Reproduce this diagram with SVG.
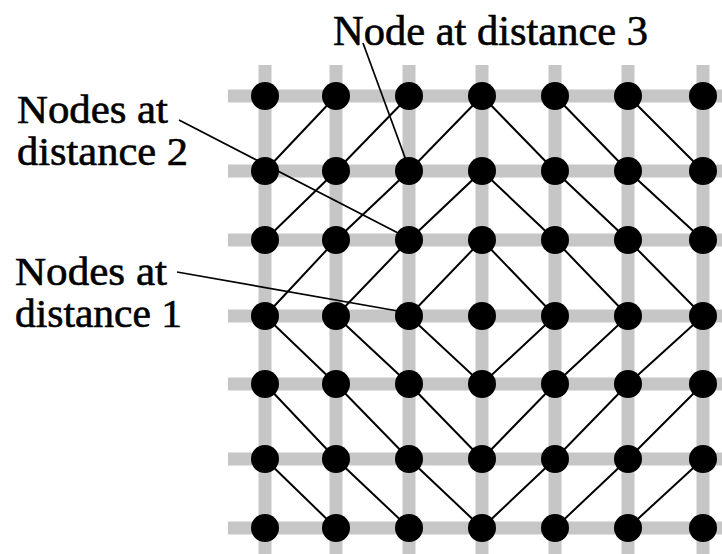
<svg xmlns="http://www.w3.org/2000/svg" width="722" height="554" viewBox="0 0 722 554">
<style>
.grid{stroke:#c6c6c6;stroke-width:13;fill:none}
.diag{stroke:#000;stroke-width:2;fill:none;stroke-linejoin:miter}
.lead{stroke:#000;stroke-width:1.7;fill:none}
.node{fill:#000}
.lbl{font-family:"Liberation Serif","Times New Roman",serif;fill:#000;stroke:#000;stroke-width:0.6}
</style>
<rect width="722" height="554" fill="#fff"/>
<g id="mesh-links">
<path class="grid" d="M228,96H722M228,171H722M228,240H722M228,316H722M228,384H722M228,459H722M228,528H722"/>
<path class="grid" d="M265,65V554M336,65V554M409,65V554M482,65V554M555,65V554M628,65V554M703,65V554"/>
</g>
<g id="distance-lines">
<polygon class="diag" points="482,240 555,316 482,384 409,316"/>
<polygon class="diag" points="482,171 555,240 628,316 555,384 482,459 409,384 336,316 409,240"/>
<polygon class="diag" points="482,96 555,171 628,240 703,316 628,384 555,459 482,528 409,459 336,384 265,316 336,240 409,171"/>
<polyline class="diag" points="409,96 336,171 265,240"/>
<polyline class="diag" points="555,96 628,171 703,240"/>
<polyline class="diag" points="703,384 628,459 555,528"/>
<polyline class="diag" points="409,528 336,459 265,384"/>
<line class="diag" x1="336" y1="96" x2="265" y2="171"/>
<line class="diag" x1="628" y1="96" x2="703" y2="171"/>
<line class="diag" x1="703" y1="459" x2="628" y2="528"/>
<line class="diag" x1="336" y1="528" x2="265" y2="459"/>
</g>
<g id="nodes">
<g id="n-r0c0"><circle class="node" cx="265" cy="96" r="14"/></g>
<g id="n-r0c1"><circle class="node" cx="336" cy="96" r="14"/></g>
<g id="n-r0c2"><circle class="node" cx="409" cy="96" r="14"/></g>
<g id="n-r0c3"><circle class="node" cx="482" cy="96" r="14"/></g>
<g id="n-r0c4"><circle class="node" cx="555" cy="96" r="14"/></g>
<g id="n-r0c5"><circle class="node" cx="628" cy="96" r="14"/></g>
<g id="n-r0c6"><circle class="node" cx="703" cy="96" r="14"/></g>
<g id="n-r1c0"><circle class="node" cx="265" cy="171" r="14"/></g>
<g id="n-r1c1"><circle class="node" cx="336" cy="171" r="14"/></g>
<g id="n-r1c2"><circle class="node" cx="409" cy="171" r="14"/></g>
<g id="n-r1c3"><circle class="node" cx="482" cy="171" r="14"/></g>
<g id="n-r1c4"><circle class="node" cx="555" cy="171" r="14"/></g>
<g id="n-r1c5"><circle class="node" cx="628" cy="171" r="14"/></g>
<g id="n-r1c6"><circle class="node" cx="703" cy="171" r="14"/></g>
<g id="n-r2c0"><circle class="node" cx="265" cy="240" r="14"/></g>
<g id="n-r2c1"><circle class="node" cx="336" cy="240" r="14"/></g>
<g id="n-r2c2"><circle class="node" cx="409" cy="240" r="14"/></g>
<g id="n-r2c3"><circle class="node" cx="482" cy="240" r="14"/></g>
<g id="n-r2c4"><circle class="node" cx="555" cy="240" r="14"/></g>
<g id="n-r2c5"><circle class="node" cx="628" cy="240" r="14"/></g>
<g id="n-r2c6"><circle class="node" cx="703" cy="240" r="14"/></g>
<g id="n-r3c0"><circle class="node" cx="265" cy="316" r="14"/></g>
<g id="n-r3c1"><circle class="node" cx="336" cy="316" r="14"/></g>
<g id="n-r3c2"><circle class="node" cx="409" cy="316" r="14"/></g>
<g id="n-r3c3"><circle class="node" cx="482" cy="316" r="14"/></g>
<g id="n-r3c4"><circle class="node" cx="555" cy="316" r="14"/></g>
<g id="n-r3c5"><circle class="node" cx="628" cy="316" r="14"/></g>
<g id="n-r3c6"><circle class="node" cx="703" cy="316" r="14"/></g>
<g id="n-r4c0"><circle class="node" cx="265" cy="384" r="14"/></g>
<g id="n-r4c1"><circle class="node" cx="336" cy="384" r="14"/></g>
<g id="n-r4c2"><circle class="node" cx="409" cy="384" r="14"/></g>
<g id="n-r4c3"><circle class="node" cx="482" cy="384" r="14"/></g>
<g id="n-r4c4"><circle class="node" cx="555" cy="384" r="14"/></g>
<g id="n-r4c5"><circle class="node" cx="628" cy="384" r="14"/></g>
<g id="n-r4c6"><circle class="node" cx="703" cy="384" r="14"/></g>
<g id="n-r5c0"><circle class="node" cx="265" cy="459" r="14"/></g>
<g id="n-r5c1"><circle class="node" cx="336" cy="459" r="14"/></g>
<g id="n-r5c2"><circle class="node" cx="409" cy="459" r="14"/></g>
<g id="n-r5c3"><circle class="node" cx="482" cy="459" r="14"/></g>
<g id="n-r5c4"><circle class="node" cx="555" cy="459" r="14"/></g>
<g id="n-r5c5"><circle class="node" cx="628" cy="459" r="14"/></g>
<g id="n-r5c6"><circle class="node" cx="703" cy="459" r="14"/></g>
<g id="n-r6c0"><circle class="node" cx="265" cy="528" r="14"/></g>
<g id="n-r6c1"><circle class="node" cx="336" cy="528" r="14"/></g>
<g id="n-r6c2"><circle class="node" cx="409" cy="528" r="14"/></g>
<g id="n-r6c3"><circle class="node" cx="482" cy="528" r="14"/></g>
<g id="n-r6c4"><circle class="node" cx="555" cy="528" r="14"/></g>
<g id="n-r6c5"><circle class="node" cx="628" cy="528" r="14"/></g>
<g id="n-r6c6"><circle class="node" cx="703" cy="528" r="14"/></g>
</g>
<g id="leaders">
<line class="lead" x1="363" y1="43" x2="407" y2="163"/>
<line class="lead" x1="179" y1="120" x2="400" y2="234"/>
<line class="lead" x1="177" y1="272" x2="398" y2="311"/>
</g>
<g id="labels">
<text class="lbl" x="333" y="45" font-size="42" textLength="315" lengthAdjust="spacingAndGlyphs">Node at distance 3</text>
<text class="lbl" x="17" y="123" font-size="40" textLength="151" lengthAdjust="spacingAndGlyphs">Nodes at</text>
<text class="lbl" x="17" y="165" font-size="40" textLength="171" lengthAdjust="spacingAndGlyphs">distance 2</text>
<text class="lbl" x="15" y="285" font-size="40" textLength="152" lengthAdjust="spacingAndGlyphs">Nodes at</text>
<text class="lbl" x="15" y="327" font-size="40" textLength="167" lengthAdjust="spacingAndGlyphs">distance 1</text>
</g>
</svg>
